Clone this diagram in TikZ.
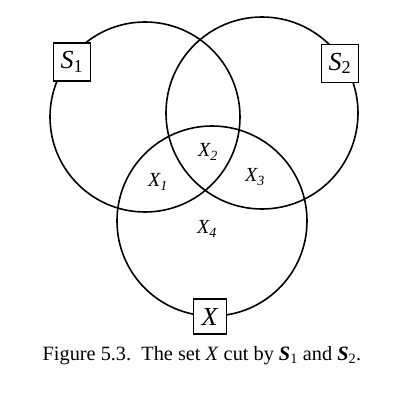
\documentclass[tikz,border=0pt]{standalone}
\usepackage{fontspec}
\setmainfont{Liberation Serif}
\begin{document}
\begin{tikzpicture}[x=1pt,y=-1pt,
  ring/.style={draw,line width=1.6pt},
  tag/.style={draw,fill=white,line width=1.8pt,inner sep=0pt,minimum width=37pt,minimum height=38pt,font=\fontsize{26}{26}\selectfont},
  xtag/.style={tag,minimum width=33pt,minimum height=35pt},
  region/.style={font=\fontsize{20}{20}\selectfont\itshape}]
\useasboundingbox (0,0) rectangle (417,402);
\coordinate (c1) at (145,117);
\coordinate (c2) at (262,113);
\coordinate (cx) at (212,221);
\draw[ring] (c1) circle[radius=95];
\draw[ring] (c2) circle[radius=96];
\draw[ring] (cx) circle[radius=95];
\node[tag] (s1) at (72,62) {\textit{S}\textsubscript{\upshape 1}};
\node[tag] (s2) at (340,63.5) {\textit{S}\textsubscript{\upshape 2}};
\node[xtag] (x) at (210,316.5) {\textit{X}};
\node[region] (x1) at (158,182) {X\textsubscript{1}};
\node[region] (x2) at (208,152) {X\textsubscript{2}};
\node[region] (x3) at (255,177) {X\textsubscript{3}};
\node[region] (x4) at (207,229) {X\textsubscript{4}};
\node[font=\fontsize{20.3}{20.3}\selectfont] (cap) at (202,356) {Figure 5.3.\ \ The set \textit{X} cut by \textbf{\textit{S}}\textsubscript{1} and \textbf{\textit{S}}\textsubscript{2}.};
\end{tikzpicture}
\end{document}
